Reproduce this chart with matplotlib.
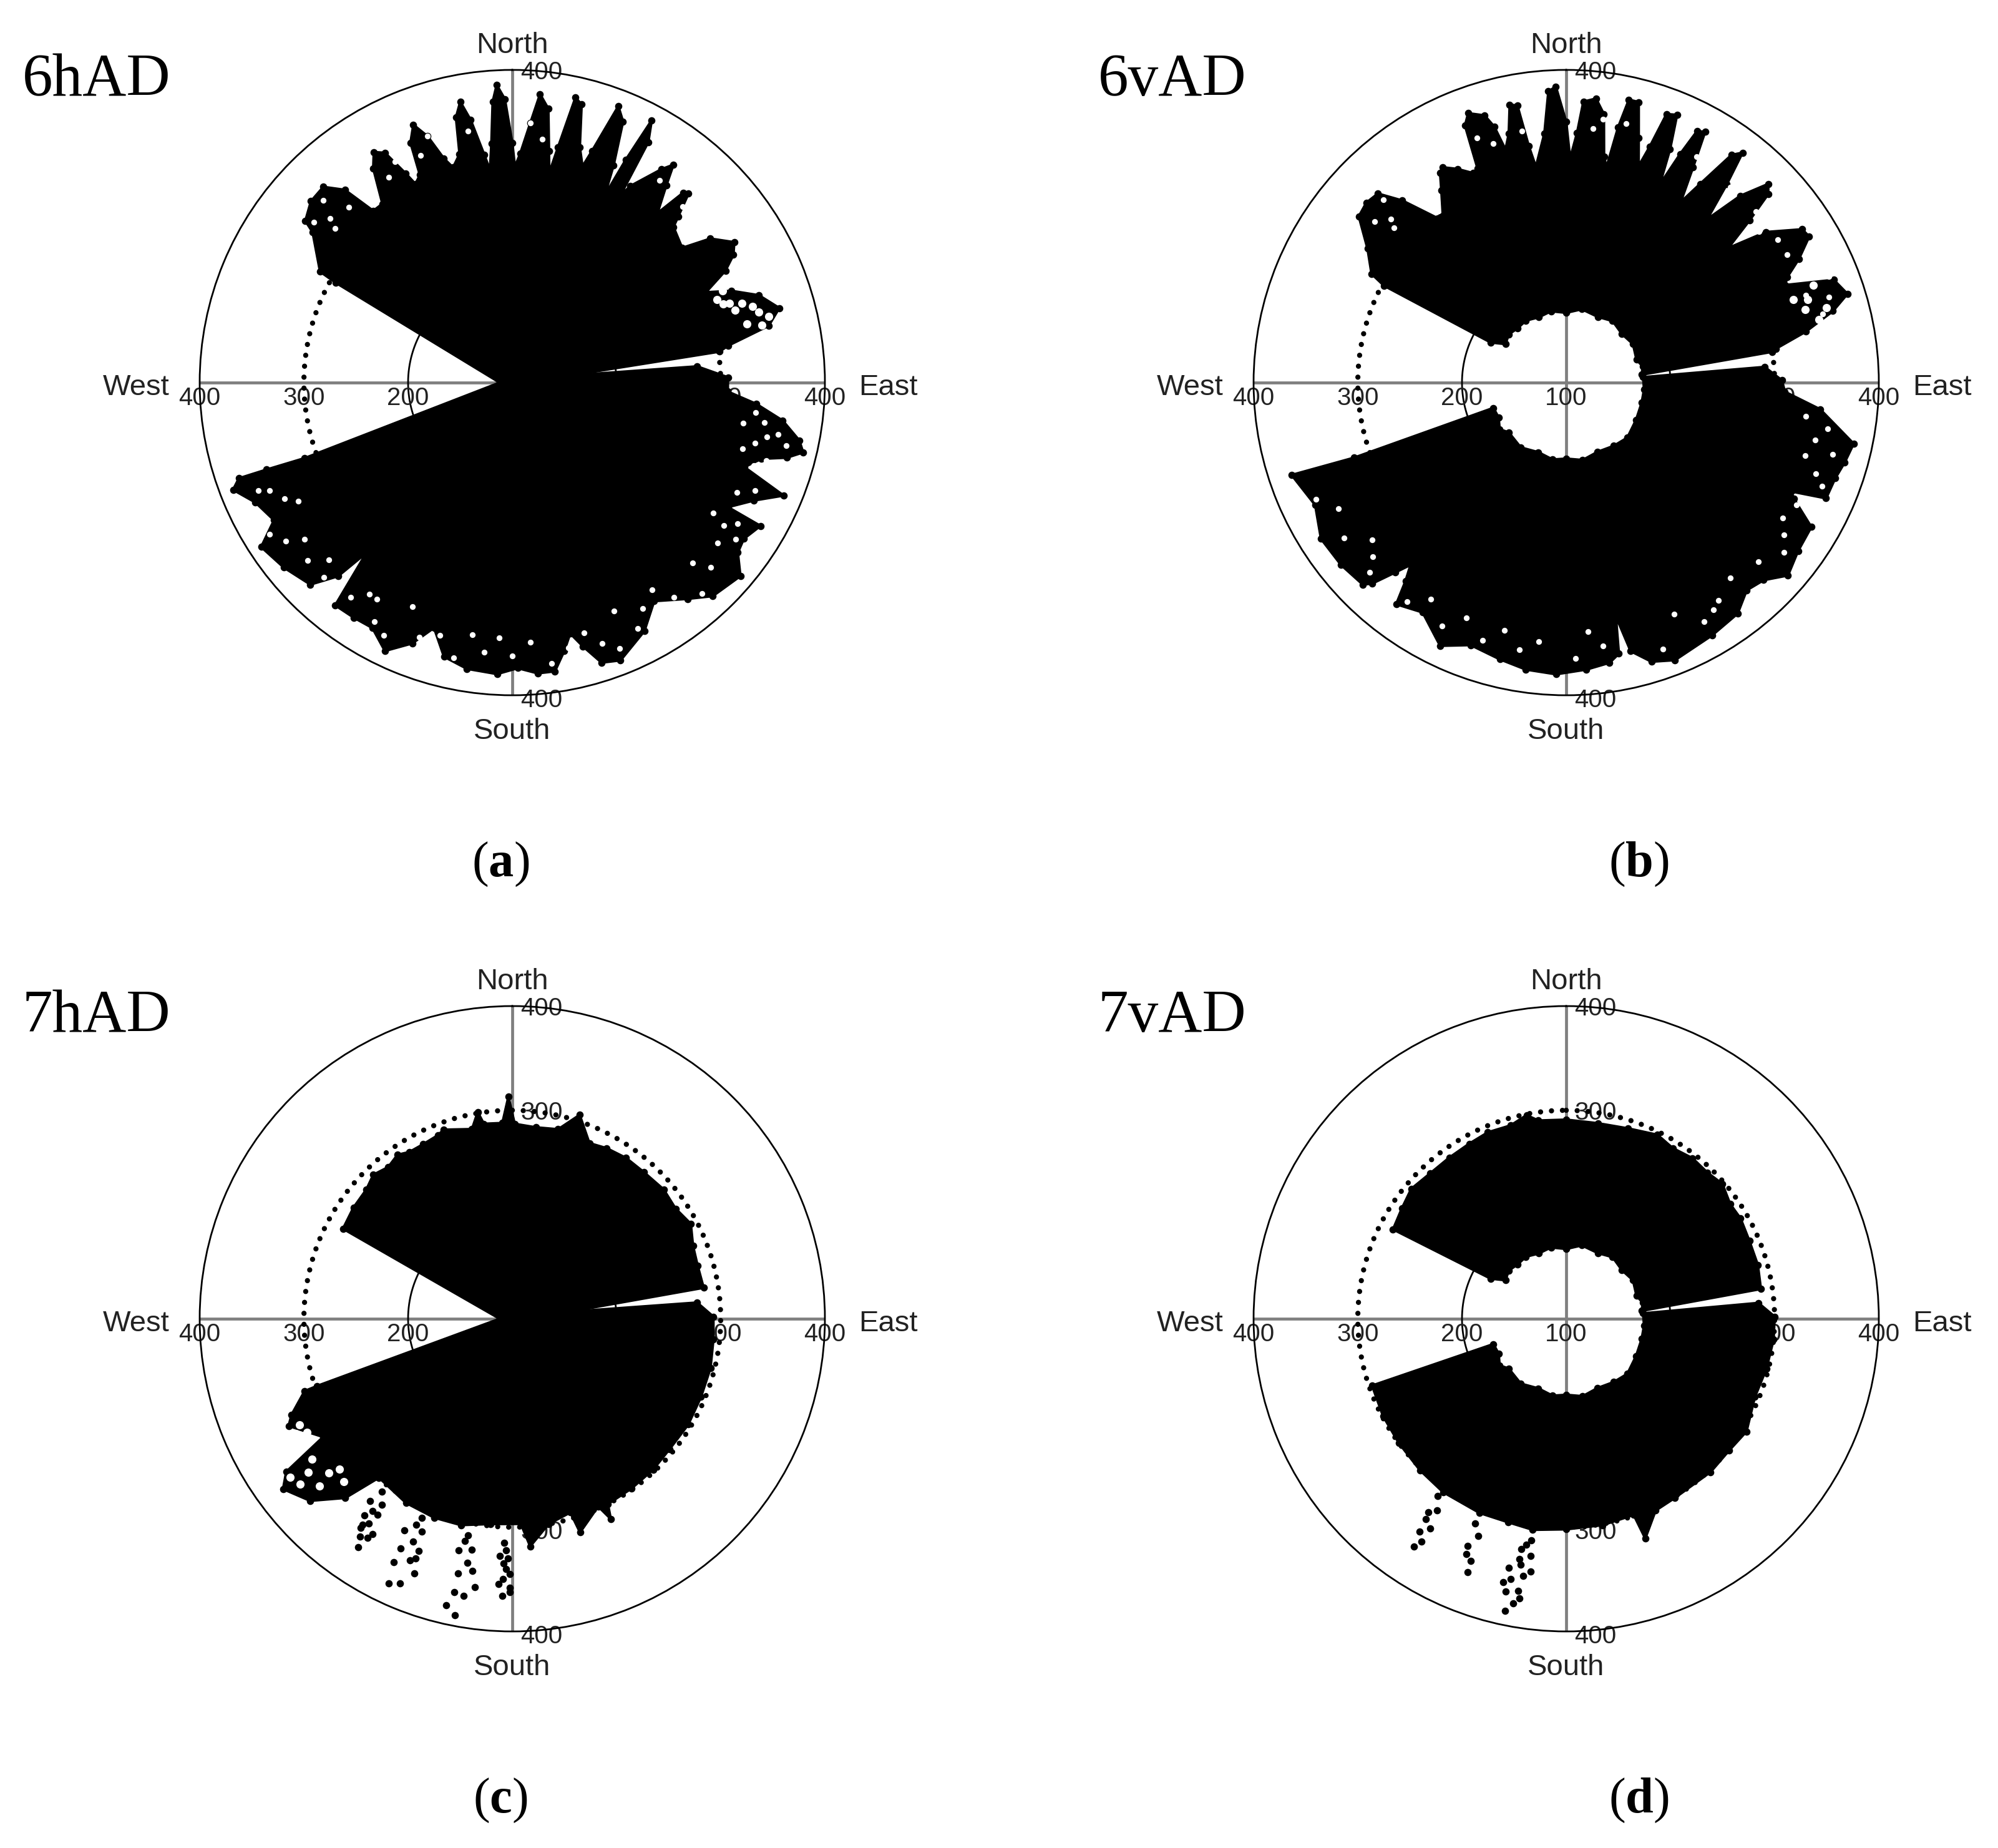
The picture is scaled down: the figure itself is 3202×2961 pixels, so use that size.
import numpy as np
import matplotlib
matplotlib.use('Agg')
import matplotlib.pyplot as plt

plt.rcParams['font.family'] = ['Liberation Sans', 'DejaVu Sans']
plt.rcParams['mathtext.fontset'] = 'custom'
plt.rcParams['mathtext.rm'] = 'Liberation Serif'
plt.rcParams['mathtext.bf'] = 'Liberation Serif:bold'

W = 3202
H = 2961

# panel a, 6hAD : outline of the points, azimuth (deg from north) and range
a_upper_az = [-60.5, -60, -53, -52, -48, -44, -41, -39, -36, -33, -31, -29, -27, -26, -24, -23, -21, -19, -17, -15.4,
              -13, -12, -10.5, -9, -7, -6, -5, -4, -3, -1.5, 0, 0.7, 2, 4, 5.5, 7.5, 9, 10, 11, 12.5, 14, 16, 18,
              19, 21, 23, 25, 26.3, 27, 28, 29.5, 30, 31, 35, 36.5, 38, 40.6, 42, 43, 45, 46, 51.6, 54, 57.7, 60,
              62.3, 65, 67.3, 70.5, 74.4, 77.5, 80.3, 81.5]
a_upper_r = [295, 313, 340, 352, 360, 361, 345, 312, 312, 345, 358, 352, 325, 312, 318, 350, 365, 350, 325, 314,
             325, 360, 374, 355, 320, 305, 330, 370, 386, 372, 330, 307, 320, 350, 378, 365, 325, 304, 330, 380, 375, 335, 318,
             335, 384, 372, 330, 300, 340, 385, 365, 307, 320, 350, 360, 340, 314, 345, 348, 325, 315, 308, 335, 352, 345,
             331, 305, 328, 351, 366, 352, 310, 301]
a_lower_az = [85, 88.6, 92.4, 95, 98, 101.4, 103.5, 105.3, 107, 110, 112.6, 116, 120, 120, 124, 127, 130.3, 136.8, 141,
              147, 152, 158.7, 162.3, 165, 167, 169, 171.6, 175, 178.9, 183, 189, 194, 197.7, 201, 205.4, 209.7, 214,
              218.5, 220.6, 222, 225, 231, 236.8, 240, 245, 249, 250.7, 250.5, 250]
a_lower_r = [278, 307, 307, 335, 362, 381, 387, 373, 350, 337, 382, 358, 339, 375, 368, 371, 387, 381, 367,
             350, 370, 386, 382, 362, 347, 362, 380, 380, 374, 380, 378, 371, 347, 368, 385, 371, 372,
             373, 315, 350, 374, 382, 388, 364, 372, 387, 378, 350, 312]
a_hole_az = [-51, -48, -46, -43, -49, -28, -31, -19, -22, -10, 4, 7, 36, 44, 99, 101, 103, 104, 107, 100, 106, 109, 114,
             116, 118, 122, 124, 123, 133, 135, 138, 150, 153, 156, 158, 168, 172, 176, 186, 189, 192, 200, 204, 210,
             214, 226, 229, 233, 235, 241, 243, 246, 247, 97, 102, 125, 128, 143, 146, 161, 164, 180, 183, 196, 207, 212, 217, 224, 238]
a_hole_r = [345, 335, 352, 330, 325, 340, 330, 350, 335, 345, 350, 335, 340, 335, 345, 360, 370, 340, 355, 325, 330, 345, 355,
            340, 365, 355, 345, 330, 360, 345, 372, 350, 365, 340, 375, 360, 372, 350, 360, 345, 370, 360, 335, 365,
            345, 345, 360, 350, 365, 335, 345, 355, 365, 335, 350, 362, 350, 358, 340, 365, 350, 362, 345, 352, 372, 345, 358, 360, 375]
a_ring_az = [70, 72.5, 75.5, 77, 76, 72, 69.5, 68, 66.5, 71, 74]
a_ring_r = [322, 342, 354, 346, 332, 325, 316, 312, 320, 333, 346]

# panel b, 6vAD
b_upper_az = [-62, -60.8, -56, -51.3, -48, -44.9, -42, -38, -36.5, -33, -31, -29.8, -27, -24, -22.5, -21.5, -20, -17, -15.7,
              -14.6, -13, -11.5, -10, -9, -8, -5, -3.5, -2, 0, 1, 2.5, 3.5, 6, 8, 9.5, 10.6, 11.5, 12.5, 14.5, 16.5, 18.5,
              19.5, 20.5, 22.5, 24, 25.3, 26.5, 27.5, 29, 30.5, 32.4, 34, 36, 37.5, 39, 40.8, 43, 45.5, 47, 48.5, 50.3,
              53, 57, 59, 62, 64.5, 66, 69, 72.5, 75, 78, 80.8, 81.5]
b_upper_r = [298, 314, 330, 355, 358, 356, 335, 300, 299, 320, 335, 338, 330, 320, 322, 365, 375, 368, 355,
             331, 345, 372, 370, 330, 309, 340, 380, 384, 350, 315, 340, 370, 374, 360, 320, 310, 350, 378, 378, 345, 319,
             340, 375, 378, 345, 310, 345, 372, 375, 340, 305, 330, 370, 378, 345, 307, 345, 372, 365, 335, 302,
             340, 370, 372, 353, 335, 330, 375, 383, 365, 335, 304, 300]
b_lower_az = [85.5, 89.4, 92.4, 96, 102, 106, 109.6, 114, 115.8, 117, 120.5, 126, 131, 135, 139, 143.4, 150, 158.6, 163, 166.5, 168,
              169, 171.2, 176, 182, 188, 193.5, 200, 205.6, 212, 217.5, 219, 220.5, 222, 224, 225.2, 231, 237.5, 244, 251.4, 250.5]
b_lower_r = [291, 307, 310, 345, 382, 378, 374, 373, 340, 345, 373, 375, 382, 368, 364, 376, 380, 386, 380, 365, 329,
             365, 372, 376, 380, 378, 373, 368, 380, 360, 368, 345, 330, 345, 368, 375, 378, 379, 368, 378, 316]
b_hole_az = [-50, -47, -45, -48, -20, -17, -10, 6, 8, 13, 30, 40, 48, 52, 56, 60, 72, 75, 70, 68, 100, 103, 105, 107, 110, 112,
             122, 125, 128, 140, 145, 150, 155, 172, 178, 186, 190, 198, 203, 212, 216, 228, 231, 235, 241, 245, 98, 118, 133, 147, 160, 175, 194, 207, 226]
b_hole_r = [340, 330, 348, 322, 350, 340, 345, 345, 355, 355, 350, 345, 345, 335, 345, 345, 365, 355, 345, 372, 355, 345, 365, 340, 355, 365,
            345, 355, 365, 345, 355, 365, 345, 355, 365, 350, 360, 360, 345, 345, 360, 350, 340, 360, 350, 365, 332, 350, 352, 360, 372, 340, 345, 362, 362]
b_ring_az = [71, 74, 76, 73, 70, 68.5]
b_ring_r = [345, 360, 350, 340, 332, 355]

# panel c, 7hAD
c_upper_az = [-62, -55, -48.5, -44, -39.3, -35, -31.7, -27, -22, -20, -12, -9.5, -8.3, -2.9, -1, 0.7, 7, 13.6, 18.3, 23.7, 29,
              35.3, 42, 49.5, 56, 62, 68, 74, 80.8]
c_upper_r = [284, 286, 287, 292, 288, 292, 288, 288, 290, 293, 286, 301, 289, 288, 313, 287, 285, 287, 306, 284, 287,
             289, 289, 291, 289, 294, 287, 285, 286]
c_lower_az = [85, 89.4, 95.9, 104, 112.5, 121, 129.6, 137, 145, 152.7, 153.8, 155.4, 162.4, 163.3, 170, 175.5, 177.6, 186, 194,
              201.4, 210, 220, 223, 228, 233.4, 235.9, 238, 244.4, 246.5, 250.8, 251]
c_lower_r = [278, 293, 294, 296, 296, 297, 296, 298, 299, 300, 314, 298, 315, 294, 300, 319, 297, 298, 304,
             305, 304, 299, 335, 361, 374, 362, 314, 338, 331, 311, 298]
c_dot_az = [217, 215, 218, 216, 217, 215, 213, 216, 214, 204.5, 203, 207, 202, 206, 203, 201, 206, 203, 205,
            191.5, 190, 193, 189, 192, 190, 192, 191, 193, 182, 181, 182, 180.5, 182, 180.5, 182, 180.5,
            214.5, 216, 213.5, 215, 205, 204, 202, 192, 190.5, 188, 181.5, 181.5, 183, 183]
c_dot_r = [308, 318, 322, 328, 336, 340, 346, 348, 364, 310, 322, 328, 340, 345, 352, 362, 360, 376, 380,
           312, 325, 328, 345, 350, 370, 368, 390, 382, 315, 330, 335, 345, 350, 358, 366, 362,
           328, 344, 352, 355, 318, 334, 348, 318, 338, 360, 322, 340, 328, 355]
c_ring_az = [229, 232, 234.5, 233, 230, 241, 243.5, 242, 226, 229, 235]
c_ring_r = [345, 358, 362, 345, 330, 325, 328, 335, 325, 320, 335]

# panel d, 7vAD
d_upper_az = [-62.7, -56, -50, -43, -36, -29, -22.8, -16, -11, -8, 0, 9.2, 18, 26.4, 32, 38.2, 44, 49.2, 55, 60.1, 67, 74.3, 81.3]
d_upper_r = [287, 290, 294, 291, 291, 292, 294, 293, 299, 292, 291, 290, 292, 297, 293, 296, 295, 298, 292, 293, 291, 291, 289]
d_lower_az = [85.3, 89.4, 95.7, 104, 112.5, 122, 129, 136.7, 148.7, 155, 160.2, 161, 170, 180, 189, 196, 204, 215.4, 224, 233.4, 242, 251]
d_lower_r = [285, 300, 300, 298, 296, 304, 301, 302, 301, 303, 324, 299, 301, 302, 305, 303, 304, 304, 302, 300, 299, 297]
d_dot_az = [216, 214, 215.5, 213, 214.5, 213.8, 204, 202, 203.5, 201.5, 201.3, 189, 191, 188.5, 190.5, 189.5, 192, 190,
            192.5, 190.5, 191.8, 215, 213, 203, 190, 193, 188, 191, 189.5, 193.5]
d_dot_r = [310, 322, 328, 340, 348, 363, 315, 325, 338, 350, 361, 315, 325, 330, 340, 350, 355, 365, 368, 378, 386,
           335, 355, 345, 320, 345, 345, 335, 372, 360]

# inner edges, first the ones that reach the middle, then the ones round the hole
solid_upper_in_az = [83, -90]
solid_upper_in_r = [154, 112]
solid_lower_in_az = [270, 83]
solid_lower_in_r = [112, 154]
hole_upper_in_az = [84, 78, 72, 60, 49, 37, 25.6, 12, 0, -12, -23, -33, -42, -50, -57.6, -62]
hole_upper_in_r = [173, 175, 171, 174, 171, 174, 170, 172, 167, 170, 168, 171, 170, 172, 169, 182]
hole_lower_in_az = [250.8, 242.7, 235, 229, 215, 201.8, 190, 180, 168, 155.6, 143, 132, 118, 105, 95, 86]
hole_lower_in_r = [174, 173, 178, 173, 176, 172, 175, 173, 176, 173, 176, 179, 176, 175, 175, 174]

spoke_az = [0, 90, 180, 270]
west_ticks = [400, 300, 200]
hole_ticks = [100]


def draw_panel(center, upper, lower, upper_in, lower_in, name, name_x, letter, letter_x, holes=None, rings=None, dots=None, has_hole=False):
    cx, cy = center
    R = 501
    ax = fig.add_axes([(cx - R) / W, 1 - (cy + R) / H, 2 * R / W, 2 * R / H], projection='polar')
    ax.set_theta_zero_location('N')
    ax.set_theta_direction(-1)
    ax.set_ylim(100, 400)
    ax.grid(False)
    ax.set_xticks([])
    ax.set_yticks([])
    ax.spines['polar'].set_linewidth(2)
    ax.patch.set_alpha(0)

    th = np.linspace(0, 2 * np.pi, 361)
    for az in spoke_az:
        ax.plot([np.radians(az)] * 2, [100, 400], color='#7f7f7f', lw=3.4, zorder=1, solid_capstyle='butt')
    ax.plot(th, np.full(361, 200), color='k', lw=2, zorder=1)
    ax.plot(th, np.full(361, 300), color='k', lw=6, zorder=2, dashes=(0.01, 2.1), dash_capstyle='round')

    # tick labels, the points hide a good part of them
    for t in west_ticks:
        ax.annotate(str(t), (np.radians(270), t), xytext=(0, -18), textcoords='offset points', ha='center', va='center', fontsize=29, color='#222222', zorder=1.5)
    if has_hole:
        for t in hole_ticks:
            ax.annotate(str(t), (np.radians(270), 100), xytext=(0, -18), textcoords='offset points', ha='center', va='center', fontsize=29, color='#222222', zorder=1.5)
    for t in [400, 300]:
        ax.annotate(str(t), (np.radians(90), t), xytext=(0, -18), textcoords='offset points', ha='center', va='center', fontsize=29, color='#222222', zorder=1.5)
        ax.annotate(str(t), (0, t), xytext=(34, -3), textcoords='offset points', ha='center', va='center', fontsize=29, color='#222222', zorder=1.5)
        ax.annotate(str(t), (np.pi, t), xytext=(34, -6), textcoords='offset points', ha='center', va='center', fontsize=29, color='#222222', zorder=1.5)

    # the mass of points
    for outer, inner in [(upper, upper_in), (lower, lower_in)]:
        az = np.array(list(outer[0]) + list(inner[0]))
        r = np.array(list(outer[1]) + list(inner[1]))
        ax.fill(np.radians(az), r, facecolor='k', edgecolor='k', lw=3, zorder=3, clip_on=False)
        ax.scatter(np.radians(az), r, s=70, color='k', lw=0, zorder=3)
    if rings is not None:
        ax.scatter(np.radians(rings[0]), rings[1], s=90, color='w', lw=0, zorder=4)
    if holes is not None:
        ax.scatter(np.radians(holes[0]), holes[1], s=45, color='w', lw=0, zorder=4)
    if dots is not None:
        ax.scatter(np.radians(dots[0]), dots[1], s=70, color='k', lw=0, zorder=5)

    # compass words sit around the circle
    ax.annotate('North', (0.5, 1), xycoords='axes fraction', xytext=(0, 28), textcoords='offset points', ha='center', va='center', fontsize=34, color='#222222')
    ax.annotate('South', (0.5, 0), xycoords='axes fraction', xytext=(0, -42), textcoords='offset points', ha='center', va='center', fontsize=34, color='#222222')
    ax.annotate('West', (0, 0.5), xycoords='axes fraction', xytext=(-35, -6), textcoords='offset points', ha='right', va='center', fontsize=34, color='#222222')
    ax.annotate('East', (1, 0.5), xycoords='axes fraction', xytext=(39, -6), textcoords='offset points', ha='left', va='center', fontsize=34, color='#222222')

    fig.text(name_x / W, 1 - (cy - 483) / H, name, family='Liberation Serif', fontsize=70, ha='left', va='center', color='k')
    fig.text(letter_x / W, 1 - (cy + 772) / H, '($\\mathbf{' + letter + '}$)', family='Liberation Serif', fontsize=58, ha='center', va='center', color='k')


fig = plt.figure(figsize=(W / 100, H / 100), dpi=100, facecolor='w')

draw_panel((821, 613), (a_upper_az, a_upper_r), (a_lower_az, a_lower_r), (solid_upper_in_az, solid_upper_in_r), (solid_lower_in_az, solid_lower_in_r),
           '6hAD', 36, 'a', 802, holes=(a_hole_az, a_hole_r), rings=(a_ring_az, a_ring_r))
draw_panel((2510, 613), (b_upper_az, b_upper_r), (b_lower_az, b_lower_r), (hole_upper_in_az, hole_upper_in_r), (hole_lower_in_az, hole_lower_in_r),
           '6vAD', 1760, 'b', 2626, holes=(b_hole_az, b_hole_r), rings=(b_ring_az, b_ring_r), has_hole=True)
draw_panel((821, 2113), (c_upper_az, c_upper_r), (c_lower_az, c_lower_r), (solid_upper_in_az, solid_upper_in_r), (solid_lower_in_az, solid_lower_in_r),
           '7hAD', 36, 'c', 802, rings=(c_ring_az, c_ring_r), dots=(c_dot_az, c_dot_r))
draw_panel((2510, 2113), (d_upper_az, d_upper_r), (d_lower_az, d_lower_r), (hole_upper_in_az, hole_upper_in_r), (hole_lower_in_az, hole_lower_in_r),
           '7vAD', 1760, 'd', 2626, dots=(d_dot_az, d_dot_r), has_hole=True)

plt.savefig('out.png', dpi=100)
